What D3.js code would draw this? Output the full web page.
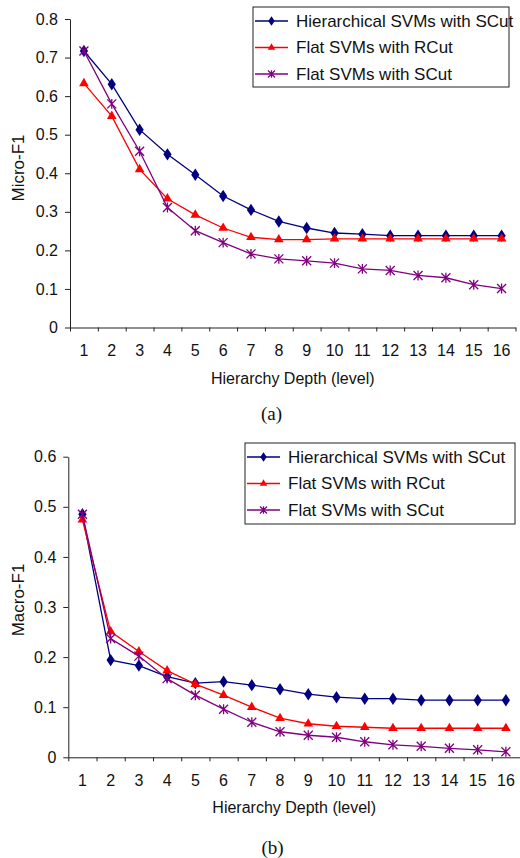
<!DOCTYPE html>
<meta charset="utf-8">
<style>
  body { margin: 0; background: #fff; }
  svg { display: block; font-family: "Liberation Sans", Arial, sans-serif; }
  .axis path, .axis line { stroke: #222; }
  .axis text { font-size: 16px; fill: #111; font-family: "Liberation Sans", Arial, sans-serif; }
  .title { font-size: 16px; fill: #111; }
  .ylabel { font-size: 17px; fill: #111; }
  .caption { font-family: "Liberation Serif", "Times New Roman", serif; font-size: 19px; fill: #111; }
  .legend-box { fill: #fff; stroke: #222; stroke-width: 1px; }
  .legend text { font-size: 17px; fill: #111; }
</style>
<svg width="520" height="858"></svg>
<script src="https://cdn.jsdelivr.net/npm/d3@7"></script>
<script>
  const levels = d3.range(1, 17);
  const seriesNames = ["Hierarchical SVMs with SCut", "Flat SVMs with RCut", "Flat SVMs with SCut"];
  const seriesColors = ["#000080", "#ff0000", "#800080"];
  const seriesMarkers = ["diamond", "triangle", "star"];

  // (a) Micro-F1
  const microHier = [0.717, 0.631, 0.513, 0.449, 0.396, 0.341, 0.305, 0.275, 0.258, 0.245, 0.242, 0.238, 0.238, 0.238, 0.238, 0.238];
  const microRCut = [0.633, 0.548, 0.410, 0.334, 0.292, 0.258, 0.234, 0.228, 0.228, 0.230, 0.230, 0.230, 0.230, 0.230, 0.230, 0.230];
  const microSCut = [0.717, 0.580, 0.457, 0.311, 0.251, 0.220, 0.191, 0.178, 0.173, 0.167, 0.152, 0.148, 0.135, 0.129, 0.111, 0.101];
  const microTicks = [0, 0.1, 0.2, 0.3, 0.4, 0.5, 0.6, 0.7, 0.8];

  // (b) Macro-F1
  const macroHier = [0.485, 0.194, 0.183, 0.161, 0.148, 0.151, 0.144, 0.136, 0.126, 0.120, 0.117, 0.117, 0.114, 0.114, 0.114, 0.114];
  const macroRCut = [0.474, 0.251, 0.211, 0.173, 0.146, 0.124, 0.100, 0.078, 0.067, 0.062, 0.060, 0.058, 0.058, 0.058, 0.058, 0.058];
  const macroSCut = [0.485, 0.237, 0.202, 0.157, 0.124, 0.096, 0.070, 0.051, 0.044, 0.040, 0.031, 0.025, 0.022, 0.018, 0.015, 0.011];
  const macroTicks = [0, 0.1, 0.2, 0.3, 0.4, 0.5, 0.6];

  const svg = d3.select("svg");

  function marker(g, type, size, color) {
    if (type === "diamond") {
      g.append("path")
        .attr("d", d3.symbol(d3.symbolDiamond, size * size * 0.55)())
        .attr("transform", "scale(1.15,1)")
        .attr("fill", color);
    } else if (type === "triangle") {
      g.append("path")
        .attr("d", d3.symbol(d3.symbolTriangle, size * size * 0.5)())
        .attr("fill", color);
    } else {
      const r = size / 2;
      g.append("path")
        .attr("d", `M${-r},${-r}L${r},${r}M${-r},${r}L${r},${-r}M0,${-r * 1.1}L0,${r * 1.1}`)
        .attr("stroke", color)
        .attr("stroke-width", 1.3)
        .attr("fill", "none");
    }
  }

  function drawChart(cfg) {
    const g = svg.append("g");
    const x = d3.scaleBand().domain(levels).range([cfg.left, cfg.right]);
    const xEdge = d3.scaleLinear().domain([0, 16]).range([cfg.left, cfg.right]);
    const y = d3.scaleLinear().domain([0, cfg.yMax]).range([cfg.bottom, cfg.top]);

    g.append("g")
      .attr("class", "axis")
      .attr("transform", `translate(${cfg.left},0)`)
      .call(d3.axisLeft(y).tickValues(cfg.ticks).tickSize(5).tickPadding(7).tickSizeOuter(0)
        .tickFormat(d => d === 0 ? "0" : d3.format(".1f")(d)));

    g.append("g")
      .attr("class", "axis")
      .attr("transform", `translate(0,${cfg.bottom})`)
      .call(d3.axisBottom(xEdge).tickValues(d3.range(0, 17)).tickSize(4).tickSizeOuter(0).tickFormat(""));

    g.append("g")
      .attr("class", "axis")
      .attr("transform", `translate(0,${cfg.bottom})`)
      .call(d3.axisBottom(x).tickSize(0).tickPadding(17))
      .call(a => a.select(".domain").remove());

    g.append("text")
      .attr("class", "title")
      .attr("text-anchor", "middle")
      .attr("x", (cfg.left + cfg.right) / 2)
      .attr("y", cfg.bottom + 56)
      .text("Hierarchy Depth (level)");

    g.append("text")
      .attr("class", "ylabel")
      .attr("text-anchor", "middle")
      .attr("transform", `translate(${cfg.yLabelX},${cfg.yLabelY}) rotate(-90)`)
      .text(cfg.yLabel);

    g.append("text")
      .attr("class", "caption")
      .attr("text-anchor", "middle")
      .attr("x", cfg.captionX)
      .attr("y", cfg.captionY)
      .text(cfg.caption);

    const line = d3.line()
      .x((d, i) => x(levels[i]) + x.bandwidth() / 2)
      .y(d => y(d));

    cfg.series.forEach((vals, si) => {
      g.append("path")
        .attr("d", line(vals))
        .attr("fill", "none")
        .attr("stroke", seriesColors[si])
        .attr("stroke-width", 1.3);
      vals.forEach((v, i) => {
        const m = g.append("g")
          .attr("transform", `translate(${x(levels[i]) + x.bandwidth() / 2},${y(v)})`);
        marker(m, seriesMarkers[si], 9, seriesColors[si]);
      });
    });

    const lg = g.append("g").attr("class", "legend");
    lg.append("rect")
      .attr("class", "legend-box")
      .attr("x", cfg.legend.x).attr("y", cfg.legend.y)
      .attr("width", cfg.legend.w).attr("height", cfg.legend.h);
    seriesNames.forEach((name, si) => {
      const ry = cfg.legend.y + 14 + si * 26.5;
      lg.append("line")
        .attr("x1", cfg.legend.x + 2).attr("x2", cfg.legend.x + 35)
        .attr("y1", ry).attr("y2", ry)
        .attr("stroke", seriesColors[si]).attr("stroke-width", 1.3);
      const m = lg.append("g").attr("transform", `translate(${cfg.legend.x + 18.5},${ry})`);
      marker(m, seriesMarkers[si], 7, seriesColors[si]);
      lg.append("text")
        .attr("x", cfg.legend.x + 43)
        .attr("y", ry)
        .attr("dy", "0.35em")
        .text(name);
    });
  }

  drawChart({
    left: 70, right: 515.5, top: 19, bottom: 327.5, yMax: 0.8,
    ticks: microTicks, series: [microHier, microRCut, microSCut],
    yLabel: "Micro-F1", yLabelX: 24, yLabelY: 168, caption: "(a)", captionX: 271.5, captionY: 420,
    legend: { x: 253, y: 7, w: 256, h: 80 }
  });

  drawChart({
    left: 68.3, right: 520, top: 456.7, bottom: 757.3, yMax: 0.6,
    ticks: macroTicks, series: [macroHier, macroRCut, macroSCut],
    yLabel: "Macro-F1", yLabelX: 24, yLabelY: 600, caption: "(b)", captionX: 272.5, captionY: 854,
    legend: { x: 245, y: 443, w: 270, h: 81 }
  });
</script>
